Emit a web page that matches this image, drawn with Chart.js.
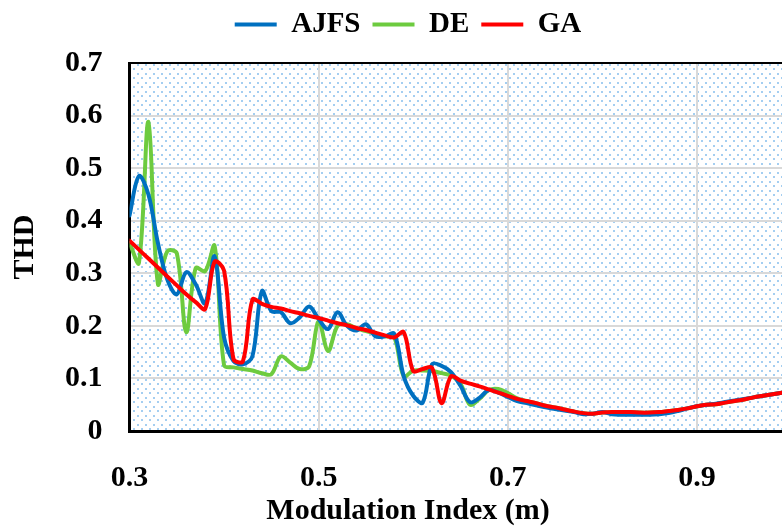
<!DOCTYPE html>
<html>
<head>
<meta charset="utf-8">
<title>THD vs Modulation Index</title>
<script src="https://cdn.jsdelivr.net/npm/chart.js@4.4.1/dist/chart.umd.min.js"></script>
<style>
    html, body { margin: 0; padding: 0; background: #fff; overflow: hidden; }
    #wrap { width: 782px; height: 529px; position: relative; }
</style>
</head>
<body>
<div id="wrap"><canvas id="chartThd"></canvas></div>
<script>
// modulation index samples (shared by all three methods)
const mIndex = [
    0.30, 0.31, 0.32, 0.33, 0.34, 0.35, 0.36, 0.37, 0.38, 0.39,
    0.40, 0.41, 0.42, 0.43, 0.44, 0.45, 0.46, 0.47, 0.48, 0.49,
    0.50, 0.51, 0.52, 0.53, 0.54, 0.55, 0.56, 0.57, 0.58, 0.59,
    0.60, 0.61, 0.62, 0.63, 0.64, 0.65, 0.66, 0.67, 0.68, 0.69,
    0.70, 0.71, 0.72, 0.73, 0.74, 0.75, 0.76, 0.77, 0.78, 0.79,
    0.80, 0.81, 0.82, 0.83, 0.84, 0.85, 0.86, 0.87, 0.88, 0.89,
    0.90, 0.91, 0.92, 0.93, 0.94, 0.95, 0.96, 0.97, 0.98, 0.99
];

const thdAjfs = [
    0.410, 0.485, 0.450, 0.358, 0.288, 0.260, 0.302, 0.279, 0.243, 0.332,
    0.178, 0.133, 0.127, 0.142, 0.266, 0.228, 0.226, 0.205, 0.216, 0.237,
    0.213, 0.194, 0.226, 0.200, 0.191, 0.203, 0.180, 0.180, 0.185, 0.104,
    0.067, 0.054, 0.127, 0.124, 0.112, 0.086, 0.055, 0.063, 0.078, 0.073,
    0.065, 0.057, 0.053, 0.049, 0.045, 0.042, 0.039, 0.036, 0.032, 0.033,
    0.036, 0.032, 0.031, 0.031, 0.031, 0.031, 0.032, 0.034, 0.038, 0.043,
    0.047, 0.050, 0.052, 0.055, 0.058, 0.061, 0.064, 0.067, 0.070, 0.073
];

const thdDe = [
    0.358, 0.320, 0.588, 0.280, 0.342, 0.338, 0.188, 0.310, 0.304, 0.352,
    0.125, 0.121, 0.118, 0.115, 0.110, 0.108, 0.142, 0.130, 0.118, 0.123,
    0.209, 0.152, 0.200, 0.203, 0.195, 0.190, 0.185, 0.180, 0.178, 0.104,
    0.115, 0.115, 0.114, 0.110, 0.105, 0.090, 0.050, 0.061, 0.078, 0.080,
    0.072, 0.062, 0.057, 0.053, 0.048, 0.045, 0.041, 0.037, 0.034, 0.033,
    0.035, 0.036, 0.036, 0.036, 0.035, 0.035, 0.036, 0.038, 0.040, 0.043,
    0.047, 0.050, 0.051, 0.054, 0.057, 0.060, 0.064, 0.067, 0.070, 0.073
];

const thdGa = [
    0.362, 0.345, 0.328, 0.311, 0.294, 0.277, 0.260, 0.245, 0.232, 0.322,
    0.305, 0.137, 0.133, 0.250, 0.242, 0.236, 0.233, 0.228, 0.224, 0.219,
    0.215, 0.210, 0.205, 0.201, 0.196, 0.192, 0.187, 0.182, 0.178, 0.188,
    0.114, 0.118, 0.120, 0.053, 0.104, 0.096, 0.090, 0.085, 0.079, 0.073,
    0.067, 0.061, 0.057, 0.053, 0.048, 0.045, 0.041, 0.037, 0.034, 0.033,
    0.035, 0.036, 0.036, 0.036, 0.035, 0.035, 0.036, 0.038, 0.040, 0.043,
    0.047, 0.050, 0.051, 0.054, 0.057, 0.060, 0.064, 0.067, 0.070, 0.073
];

const xTicks = [0.3, 0.5, 0.7, 0.9];
const yTicks = [0, 0.1, 0.2, 0.3, 0.4, 0.5, 0.6, 0.7];

const FONT = 'Liberation Serif';

function toPoints(ys) {
    return mIndex.map((x, i) => ({ x: x, y: ys[i] }));
}

// dotted fill behind the plot + black frame line on top
const plotBackground = {
    id: 'plotBackground',
    beforeDraw(chart) {
        const { ctx, chartArea: a } = chart;
        const tile = document.createElement('canvas');
        tile.width = 8;
        tile.height = 9;
        const t = tile.getContext('2d');
        t.fillStyle = '#ffffff';
        t.fillRect(0, 0, 8, 9);
        t.fillStyle = 'rgba(90, 165, 230, 0.55)';
        t.fillRect(1, 1, 2, 2);
        t.fillRect(5, 5, 2, 2);
        ctx.save();
        ctx.fillStyle = ctx.createPattern(tile, 'repeat');
        ctx.fillRect(a.left, a.top, a.right - a.left, a.bottom - a.top);
        ctx.restore();
    },
    afterDraw(chart) {
        const { ctx, chartArea: a } = chart;
        ctx.save();
        ctx.strokeStyle = '#000';
        ctx.lineWidth = 2;
        ctx.beginPath();
        ctx.moveTo(a.left, a.top);
        ctx.lineTo(a.right, a.top);
        ctx.stroke();
        ctx.restore();
    }
};

// leave some room between the legend row and the plot
const legendGap = {
    id: 'legendGap',
    beforeInit(chart) {
        const fit = chart.legend.fit;
        chart.legend.fit = function () {
            fit.bind(chart.legend)();
            this.height = 65;
        };
    }
};

const ctx = document.getElementById('chartThd').getContext('2d');
const chart = new Chart(ctx, {
    type: 'line',
    data: {
        datasets: [
            {
                label: 'AJFS',
                data: toPoints(thdAjfs),
                borderColor: '#0070C0',
                backgroundColor: '#0070C0',
                borderWidth: 4,
                order: 1
            },
            {
                label: 'DE',
                data: toPoints(thdDe),
                borderColor: '#6DCB3F',
                backgroundColor: '#6DCB3F',
                borderWidth: 4,
                order: 2
            },
            {
                label: 'GA',
                data: toPoints(thdGa),
                borderColor: '#FF0000',
                backgroundColor: '#FF0000',
                borderWidth: 4,
                order: 0
            }
        ]
    },
    options: {
        responsive: true,
        maintainAspectRatio: false,
        animation: false,
        layout: { padding: { left: 34, right: 0, top: -2, bottom: 0 } },
        elements: {
            point: { radius: 0 },
            line: { tension: 0.35, borderCapStyle: 'round', borderJoinStyle: 'round' }
        },
        plugins: {
            legend: {
                position: 'top',
                labels: {
                    usePointStyle: true,
                    pointStyle: 'line',
                    pointStyleWidth: 42,
                    padding: 12,
                    color: '#000',
                    font: { family: FONT, size: 29, weight: 'bold' },
                    sort: (a, b) => a.datasetIndex - b.datasetIndex
                }
            },
            title: {
                display: true,
                position: 'bottom',
                text: 'Modulation Index (m)',
                color: '#000',
                padding: { top: -32, bottom: 0 },
                font: { family: FONT, size: 30, weight: 'bold' }
            },
            tooltip: { enabled: false }
        },
        scales: {
            x: {
                type: 'linear',
                min: 0.3,
                max: 0.99,
                afterBuildTicks: scale => { scale.ticks = xTicks.map(v => ({ value: v })); },
                ticks: {
                    padding: 29,
                    color: '#000',
                    font: { family: FONT, size: 30, weight: 'bold' },
                    callback: v => v.toFixed(1)
                },
                grid: { color: '#d9d9d9', lineWidth: 2, drawTicks: false },
                border: { color: '#000', width: 3 }
            },
            y: {
                min: 0,
                max: 0.7,
                afterBuildTicks: scale => { scale.ticks = yTicks.map(v => ({ value: v })); },
                ticks: {
                    padding: 27,
                    color: '#000',
                    font: { family: FONT, size: 30, weight: 'bold' },
                    callback: v => v === 0 ? '0' : v.toFixed(1)
                },
                grid: { color: '#d9d9d9', lineWidth: 2, drawTicks: false },
                border: { color: '#000', width: 3 },
                title: {
                    display: true,
                    text: 'THD',
                    color: '#000',
                    padding: { top: -27, bottom: -5 },
                    font: { family: FONT, size: 30, weight: 'bold' }
                }
            }
        }
    },
    plugins: [plotBackground, legendGap]
});
</script>
</body>
</html>
